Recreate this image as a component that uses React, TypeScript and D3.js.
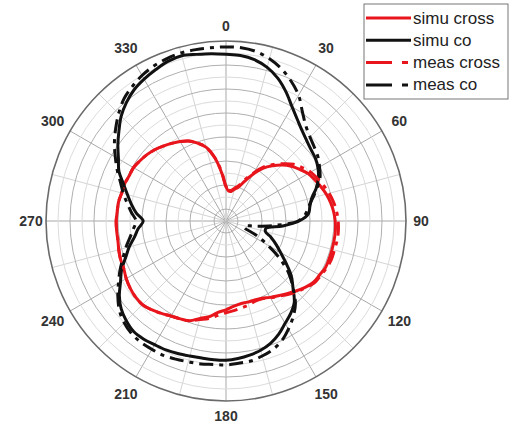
import React from "react";
import * as d3 from "d3";

// angle in degrees, clockwise from top
const angles = d3.range(0, 360, 5);

// gain in dB, one value per angle
const simuCross = [
  -24.3, -25.0, -25.0, -24.5, -24.0, -22.7, -21.0, -19.3, -18.0, -16.8, -15.8, -15.0,
  -14.2, -13.7, -13.2, -12.7, -12.3, -12.0, -11.8, -11.7, -11.7, -11.7, -11.7, -11.7,
  -12.0, -12.2, -12.8, -13.5, -14.2, -14.8, -15.3, -15.8, -16.0, -16.0, -16.0, -15.7,
  -15.2, -14.7, -13.8, -13.2, -12.3, -12.0, -11.7, -11.2, -10.7, -10.3, -10.3, -10.5,
  -10.8, -11.2, -11.3, -11.5, -11.7, -11.7, -11.7, -11.8, -11.8, -12.0, -12.0, -12.2,
  -12.2, -12.5, -12.8, -13.2, -13.7, -14.2, -14.7, -15.3, -16.2, -17.3, -19.3, -22.0,
];
const simuCo = [
  -2.2, -2.3, -2.7, -3.5, -4.7, -6.3, -8.0, -9.3, -10.3, -11.0, -11.5, -11.8,
  -12.3, -13.0, -14.0, -15.2, -15.8, -16.2, -17.8, -20.5, -23.2, -23.2, -22.0, -20.8,
  -19.5, -17.8, -15.8, -14.2, -12.3, -11.2, -10.3, -9.2, -8.3, -7.7, -7.3, -7.0,
  -6.8, -6.8, -6.8, -6.7, -6.5, -6.3, -6.2, -6.0, -6.0, -6.5, -7.2, -8.3,
  -9.7, -10.8, -12.2, -13.3, -14.5, -15.3, -16.2, -15.0, -14.0, -13.0, -11.8, -10.3,
  -9.3, -8.0, -6.7, -5.3, -4.2, -3.3, -2.7, -2.2, -1.7, -1.5, -1.8, -2.0,
];
const measCross = [
  -24.2, -24.8, -24.8, -24.3, -23.7, -22.3, -20.7, -19.0, -17.7, -16.5, -15.3, -14.5,
  -13.7, -13.2, -12.7, -12.2, -11.8, -11.5, -11.3, -11.2, -11.2, -11.3, -11.3, -11.5,
  -11.8, -12.0, -12.7, -13.3, -14.0, -14.7, -15.2, -15.7, -15.8, -15.5, -15.3, -15.0,
  -14.7, -14.2, -13.5, -13.0, -12.3, -12.0, -11.7, -11.2, -10.7, -10.3, -10.3, -10.5,
  -10.8, -11.2, -11.3, -11.5, -11.7, -11.7, -11.7, -11.8, -11.8, -12.0, -12.0, -12.2,
  -12.2, -12.5, -12.8, -13.2, -13.7, -14.2, -14.7, -15.3, -16.2, -17.3, -19.3, -21.8,
];
const measCo = [
  -1.0, -1.0, -1.3, -2.0, -3.0, -4.3, -5.8, -7.8, -9.3, -10.2, -10.8, -11.3,
  -12.0, -12.7, -13.8, -15.0, -16.0, -16.7, -18.0, -21.7, -25.0, -26.8, -26.7, -24.5,
  -22.0, -19.0, -16.3, -14.2, -12.0, -10.5, -9.2, -8.0, -7.2, -6.7, -6.3, -6.2,
  -6.0, -6.0, -5.8, -5.7, -5.5, -5.3, -5.3, -5.3, -5.5, -6.0, -6.8, -8.0,
  -9.3, -10.5, -11.7, -12.7, -13.7, -14.5, -15.0, -14.2, -13.3, -12.3, -11.3, -10.0,
  -8.7, -7.3, -6.0, -4.7, -3.5, -2.7, -2.0, -1.5, -1.2, -1.0, -1.0, -1.0,
];

const angleLabels = [0, 30, 60, 90, 120, 150, 180, 210, 240, 270, 300, 330];
const ringValues = d3.range(-28, 0.1, 2);

const series = [
  { name: "simu cross", values: simuCross, color: "#e8161c", dash: null },
  { name: "simu co", values: simuCo, color: "#111", dash: null },
  { name: "meas cross", values: measCross, color: "#e8161c", dash: "14 6 4 6" },
  { name: "meas co", values: measCo, color: "#111", dash: "14 6 4 6" },
];

const App = () => {
  const width = 513;
  const height = 430;
  const cx = 226;
  const cy = 221;
  const radius = 180;

  const rScale = d3.scaleLinear().domain([-30, 0]).range([0, radius]);
  const toRad = (deg: number) => (deg * Math.PI) / 180;

  const line = d3
    .lineRadial<number>()
    .angle((d, i) => toRad(angles[i]))
    .radius((d) => rScale(d))
    .curve(d3.curveCatmullRomClosed);

  const spokes = d3.range(0, 360, 15);

  return (
    <svg
      width={width}
      height={height}
      style={{ position: "absolute", left: 0, top: 0, background: "#fff" }}
    >
      <g transform={`translate(${cx},${cy})`}>
        {spokes.map((a) => (
          <line
            key={"s" + a}
            x1={0}
            y1={0}
            x2={radius * Math.sin(toRad(a))}
            y2={-radius * Math.cos(toRad(a))}
            stroke={a % 30 === 0 ? "#a8a8a8" : "#d4d4d4"}
            strokeWidth={1}
          />
        ))}
        {ringValues.map((v) => {
          const k = (v + 30) / 2;
          return (
            <circle
              key={"r" + v}
              r={rScale(v)}
              fill="none"
              stroke={v === 0 ? "#6a6a6a" : k % 2 === 1 ? "#b0b0b0" : "#dcdcdc"}
              strokeWidth={v === 0 ? 1.6 : 1}
            />
          );
        })}
        {series.map((s) => (
          <path
            key={s.name}
            d={line(s.values) || ""}
            fill="none"
            stroke={s.color}
            strokeWidth={3}
            strokeDasharray={s.dash || undefined}
            strokeLinejoin="round"
          />
        ))}
        {angleLabels.map((a) => {
          const lr = 195 + 6 * Math.abs(Math.sin(toRad(2 * a)));
          return (
            <text
              key={"l" + a}
              x={lr * Math.sin(toRad(a))}
              y={-lr * Math.cos(toRad(a))}
              textAnchor="middle"
              dominantBaseline="central"
              fontFamily="'Liberation Sans', Arial, sans-serif"
              fontWeight="bold"
              fontSize={14}
              fill="#333"
            >
              {a}
            </text>
          );
        })}
      </g>
      <g transform="translate(364,4)">
        <rect x={0} y={0} width={144} height={95} fill="#fff" stroke="#777" strokeWidth={1} />
        {series.map((s, i) => {
          const y = 14 + i * 22.3;
          return (
            <g key={"lg" + s.name}>
              <line
                x1={2}
                x2={47}
                y1={y}
                y2={y}
                stroke={s.color}
                strokeWidth={3}
                strokeDasharray={s.dash ? "26 10 6 10" : undefined}
              />
              <text
                x={49}
                y={y}
                dominantBaseline="central"
                fontFamily="'Liberation Sans', Arial, sans-serif"
                fontSize={17}
                fill="#222"
              >
                {s.name}
              </text>
            </g>
          );
        })}
      </g>
    </svg>
  );
};

export default App;
